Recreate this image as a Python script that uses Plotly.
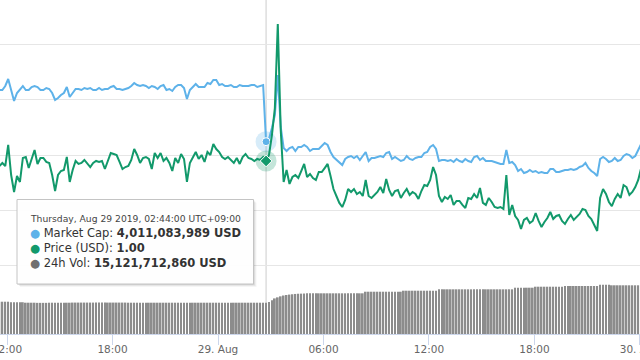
import pandas as pd
import plotly.graph_objects as go

# ---------------- data (10-minute samples, Aug 28 11:34 -> Aug 30 00:04, UTC+09:00) ----------------
start_time = "2019-08-28 11:34"
step = "10min"

price_usd = [
    0.99900, 0.99928, 0.99900, 1.00091, 0.99819, 0.99665, 0.99810, 0.99756, 0.99973, 0.99982,
    0.99882, 0.99955, 1.00045, 0.99919, 0.99973, 0.99973, 0.99937, 0.99928, 0.99819, 0.99674,
    0.99819, 0.99855, 0.99864, 0.99982, 0.99756, 0.99864, 0.99946, 0.99919, 0.99928, 0.99955,
    0.99919, 0.99891, 0.99928, 0.99946, 0.99937, 0.99946, 0.99873, 0.99946, 1.00018, 1.00009,
    1.00000, 0.99937, 0.99873, 0.99891, 0.99900, 0.99955, 1.00054, 1.00000, 0.99928, 0.99973,
    0.99982, 0.99964, 0.99873, 1.00018, 0.99973, 1.00018, 0.99946, 0.99973, 0.99928, 0.99855,
    0.99973, 0.99928, 1.00009, 0.99964, 0.99756, 0.99928, 0.99982, 1.00027, 0.99964, 1.00000,
    0.99937, 1.00027, 1.00000, 1.00100, 1.00054, 1.00027, 0.99982, 0.99964, 0.99982, 0.99955,
    0.99928, 0.99973, 0.99919, 0.99982, 1.00009, 0.99973, 0.99964, 0.99946, 0.99964, 0.99955,
    0.99982, 0.99946, 1.00000, 1.00181, 1.00425, 1.01186, 1.00226, 0.99756, 0.99864, 0.99738,
    0.99801, 0.99819, 0.99792, 0.99855, 0.99919, 0.99801, 0.99828, 0.99792, 0.99774, 0.99846,
    0.99846, 0.99882, 0.99919, 0.99810, 0.99692, 0.99629, 0.99566, 0.99529, 0.99593, 0.99692,
    0.99665, 0.99692, 0.99647, 0.99665, 0.99629, 0.99774, 0.99629, 0.99611, 0.99638, 0.99665,
    0.99710, 0.99656, 0.99783, 0.99683, 0.99629, 0.99674, 0.99683, 0.99611, 0.99656, 0.99692,
    0.99638, 0.99665, 0.99647, 0.99602, 0.99674, 0.99728, 0.99719, 0.99774, 0.99891, 0.99819,
    0.99629, 0.99575, 0.99620, 0.99602, 0.99638, 0.99548, 0.99584, 0.99584, 0.99548, 0.99520,
    0.99611, 0.99602, 0.99647, 0.99611, 0.99701, 0.99566, 0.99548, 0.99611, 0.99575, 0.99529,
    0.99520, 0.99529, 0.99511, 0.99819, 0.99457, 0.99548, 0.99448, 0.99412, 0.99330, 0.99412,
    0.99430, 0.99385, 0.99403, 0.99475, 0.99403, 0.99348, 0.99394, 0.99430, 0.99484, 0.99421,
    0.99448, 0.99457, 0.99403, 0.99376, 0.99421, 0.99457, 0.99412, 0.99439, 0.99466, 0.99511,
    0.99502, 0.99448, 0.99421, 0.99367, 0.99312, 0.99611, 0.99692, 0.99647, 0.99575, 0.99538,
    0.99602, 0.99647, 0.99611, 0.99728, 0.99710, 0.99638, 0.99665, 0.99710, 0.99774, 0.99882,
]

market_cap_musd = [
    4031.76, 4031.76, 4033.36, 4036.16, 4031.76, 4027.36, 4030.56, 4032.16, 4033.36, 4031.76,
    4031.76, 4032.96, 4033.36, 4032.96, 4031.76, 4031.76, 4032.56, 4032.16, 4030.56, 4027.76,
    4028.56, 4029.76, 4030.56, 4032.96, 4028.96, 4030.56, 4032.16, 4032.16, 4031.76, 4032.56,
    4032.16, 4032.56, 4031.76, 4031.76, 4032.56, 4031.76, 4032.16, 4032.16, 4032.96, 4033.36,
    4032.16, 4032.16, 4031.76, 4032.16, 4032.56, 4033.36, 4034.56, 4033.76, 4033.36, 4033.76,
    4033.36, 4032.56, 4033.36, 4032.96, 4032.16, 4033.36, 4033.76, 4031.76, 4032.16, 4031.36,
    4032.96, 4033.76, 4033.76, 4032.56, 4028.16, 4031.76, 4032.96, 4034.16, 4032.96, 4032.96,
    4032.96, 4034.56, 4034.16, 4035.76, 4035.76, 4033.76, 4034.16, 4033.36, 4033.36, 4033.76,
    4032.96, 4032.96, 4033.76, 4033.36, 4033.36, 4033.36, 4033.76, 4033.76, 4032.96, 4033.36,
    4033.76, 4011.08, 4012.16, 4016.56, 4021.76, 4037.76, 4016.96, 4008.56, 4007.36, 4008.56,
    4008.96, 4007.36, 4008.96, 4008.96, 4009.76, 4008.96, 4007.36, 4008.16, 4008.16, 4008.16,
    4009.36, 4010.56, 4009.76, 4006.96, 4004.96, 4003.76, 4002.96, 4001.76, 4004.16, 4004.96,
    4005.36, 4004.56, 4005.36, 4003.76, 4005.36, 4006.96, 4003.36, 4004.56, 4004.56, 4004.96,
    4005.36, 4004.96, 4006.56, 4006.96, 4004.16, 4004.96, 4004.16, 4003.36, 4003.76, 4005.36,
    4004.16, 4003.76, 4004.56, 4004.96, 4004.96, 4006.56, 4006.96, 4008.96, 4009.76, 4008.16,
    4003.36, 4003.76, 4003.76, 4003.36, 4003.76, 4002.96, 4004.16, 4003.36, 4002.96, 4004.16,
    4003.36, 4002.96, 4004.96, 4005.36, 4003.76, 4004.56, 4003.36, 4003.36, 4003.36, 4002.96,
    4002.56, 4002.16, 4002.16, 4007.76, 4002.56, 4002.96, 4001.76, 3999.36, 4000.16, 3998.56,
    3998.96, 3999.76, 3998.96, 3999.36, 3998.56, 3998.96, 3998.56, 3998.56, 4000.16, 4000.16,
    3998.96, 3998.96, 3999.36, 3999.76, 3999.76, 4000.16, 3999.76, 4000.16, 4000.96, 4001.36,
    4002.56, 4000.56, 3999.36, 3998.56, 3997.36, 4004.16, 4004.96, 4004.16, 4002.96, 4003.36,
    4004.56, 4003.36, 4003.76, 4005.36, 4006.16, 4005.76, 4004.56, 4005.36, 4007.76, 4010.16,
]

volume_24h_busd = [
    15.60, 15.60, 15.60, 15.60, 15.35, 15.35, 15.35, 15.35, 15.35, 15.12,
    15.12, 15.12, 15.12, 15.05, 15.05, 15.05, 15.05, 15.12, 15.12, 15.12,
    15.12, 15.12, 15.12, 15.12, 15.12, 15.18, 15.18, 15.18, 15.18, 15.18,
    15.18, 15.18, 15.18, 15.18, 15.18, 15.18, 15.18, 15.18, 15.18, 15.18,
    15.18, 15.18, 15.18, 15.18, 15.12, 15.12, 15.12, 15.12, 15.12, 15.12,
    15.12, 15.12, 15.12, 15.12, 15.12, 15.12, 15.12, 15.12, 15.12, 15.12,
    15.12, 15.12, 15.12, 15.12, 15.12, 15.12, 15.12, 15.12, 15.12, 15.12,
    15.12, 15.12, 15.12, 15.12, 15.12, 15.12, 15.12, 15.12, 15.12, 15.12,
    15.12, 15.12, 15.12, 15.12, 15.12, 15.12, 15.12, 15.12, 15.12, 15.12,
    15.12, 15.12, 15.45, 16.30, 17.20, 17.70, 18.20, 18.60, 18.85, 19.05,
    19.20, 19.35, 19.45, 19.50, 19.55, 19.66, 19.66, 19.66, 19.66, 19.66,
    19.66, 19.66, 19.66, 19.66, 19.66, 19.66, 19.66, 19.66, 19.66, 19.66,
    19.66, 19.66, 19.66, 19.66, 19.66, 20.43, 20.43, 20.43, 20.43, 20.43,
    20.43, 20.43, 20.43, 20.43, 20.43, 20.43, 20.43, 20.43, 20.92, 20.92,
    20.92, 20.92, 20.92, 20.92, 20.92, 20.92, 20.92, 20.92, 20.92, 20.92,
    21.59, 21.59, 21.59, 21.59, 21.59, 21.59, 21.59, 21.59, 21.59, 21.59,
    21.59, 21.59, 21.59, 21.59, 21.59, 21.59, 21.59, 21.59, 21.59, 21.59,
    21.59, 21.59, 21.59, 21.59, 21.59, 21.59, 22.37, 22.37, 22.37, 22.37,
    22.37, 22.37, 22.37, 22.85, 22.85, 22.85, 22.85, 22.85, 22.85, 22.85,
    22.85, 22.85, 22.85, 23.19, 23.19, 23.19, 23.19, 23.19, 23.19, 23.19,
    23.19, 23.19, 23.19, 23.19, 23.19, 23.82, 23.82, 23.82, 23.82, 23.53,
    23.53, 23.53, 23.53, 23.53, 23.53, 23.53, 23.53, 23.53, 23.53, 23.53,
]

tick_times = ["2019-08-28 12:00", "2019-08-28 18:00", "2019-08-29 00:00", "2019-08-29 06:00",
              "2019-08-29 12:00", "2019-08-29 18:00", "2019-08-30 00:00"]
tick_labels = ["12:00", "18:00", "29. Aug", "06:00", "12:00", "18:00", "30. Aug"]
x_range = ["2019-08-28 11:36:00", "2019-08-30 00:00:05"]

price_grid = [0.990, 0.995, 1.000, 1.005, 1.010]
price_range = [0.98380, 1.0140275]
mcap_range = [3934.16, 4067.76]
volume_range = [0, 161.36]

hover_time = "2019-08-29 02:44"
tooltip_header = "Thursday, Aug 29 2019, 02:44:00 UTC+09:00"
tooltip_rows = [("Market Cap: ", "4,011,083,989 USD"),
                ("Price (USD): ", "1.00"),
                ("24h Vol: ", "15,121,712,860 USD")]

# ---------------- styling ----------------
BLUE = "#5eb2e9"
GREEN = "#12996b"
BAR = "#8c8c8c"
FONT = "DejaVu Sans"
W, H = 640, 360
MB = 26
PLOT_H = H - MB

times = pd.date_range(start_time, periods=len(price_usd), freq=step)
hover_idx = list(times).index(pd.Timestamp(hover_time))

fig = go.Figure()
fig.add_trace(go.Bar(x=times, y=volume_24h_busd, marker=dict(color=BAR, line=dict(width=0)),
                     yaxis="y"))
fig.add_trace(go.Scatter(x=times, y=market_cap_musd, mode="lines", yaxis="y2",
                         line=dict(color=BLUE, width=2)))
fig.add_trace(go.Scatter(x=times, y=price_usd, mode="lines", yaxis="y3",
                         line=dict(color=GREEN, width=2)))
# hover halos + markers
ht = [times[hover_idx]]
fig.add_trace(go.Scatter(x=ht, y=[market_cap_musd[hover_idx]], yaxis="y2", mode="markers",
                         marker=dict(size=21, color=BLUE, opacity=0.25, line=dict(width=0))))
fig.add_trace(go.Scatter(x=ht, y=[price_usd[hover_idx]], yaxis="y3", mode="markers",
                         marker=dict(size=21, color=GREEN, opacity=0.25, line=dict(width=0))))
fig.add_trace(go.Scatter(x=ht, y=[market_cap_musd[hover_idx]], yaxis="y2", mode="markers",
                         marker=dict(size=8, color=BLUE, line=dict(width=1, color="white"))))
fig.add_trace(go.Scatter(x=ht, y=[price_usd[hover_idx]], yaxis="y3", mode="markers",
                         marker=dict(size=9, symbol="diamond", color=GREEN,
                                     line=dict(width=1, color="white"))))


def px(xp):
    return xp / W


def py(yp):
    return (PLOT_H - yp) / PLOT_H


tip_l, tip_r, tip_t, tip_b = 17, 253.5, 199.5, 284
shapes = [
    dict(type="line", xref="x", yref="paper", x0=times[hover_idx], x1=times[hover_idx],
         y0=0, y1=1, line=dict(color="#cccccc", width=1), layer="below"),
]
for off, alpha in [(3, 0.04), (2, 0.06), (1, 0.08)]:
    shapes.append(dict(type="rect", xref="paper", yref="paper",
                       x0=px(tip_l + off), x1=px(tip_r + off), y0=py(tip_b + off), y1=py(tip_t + off),
                       fillcolor=f"rgba(0,0,0,{alpha})", line=dict(width=0)))
shapes.append(dict(type="rect", xref="paper", yref="paper",
                   x0=px(tip_l), x1=px(tip_r), y0=py(tip_b), y1=py(tip_t),
                   fillcolor="rgba(255,255,255,0.97)", line=dict(color="#c4c4c4", width=1)))

annotations = [dict(xref="paper", yref="paper", x=px(27.5), y=py(218.3), xanchor="left",
                    yanchor="middle", showarrow=False, text=tooltip_header,
                    font=dict(family=FONT, size=9.2, color="#444444"))]
dot_colors = [BLUE, GREEN, "#707070"]
row_y = [232.7, 248.3, 263.3]
for (lab, val), c, yy in zip(tooltip_rows, dot_colors, row_y):
    annotations.append(dict(
        xref="paper", yref="paper", x=px(27.5), y=py(yy), xanchor="left", yanchor="middle",
        showarrow=False,
        text=f"<span style='color:{c}'>●</span> {lab}<b>{val}</b>",
        font=dict(family=FONT, size=11.5, color="#333333")))

fig.update_layout(
    width=W, height=H,
    margin=dict(l=0, r=0, t=0, b=MB),
    paper_bgcolor="white", plot_bgcolor="white",
    showlegend=False, hovermode=False, bargap=0.4,
    xaxis=dict(type="date", range=x_range, tickvals=tick_times, ticktext=tick_labels,
               showgrid=False, zeroline=False, showline=True, linecolor="#ccd6eb", linewidth=1,
               ticks="outside", ticklen=10, tickcolor="#ccd6eb", tickwidth=1,
               tickfont=dict(family=FONT, size=10.5, color="#666666"),
               ticklabelstandoff=-5,
               ticklabeloverflow="allow", automargin=False),
    yaxis=dict(range=volume_range, showgrid=False, zeroline=False, showticklabels=False,
               automargin=False),
    yaxis2=dict(range=mcap_range, overlaying="y", showgrid=False, zeroline=False,
                showticklabels=False),
    yaxis3=dict(range=price_range, overlaying="y", tickvals=price_grid, showgrid=True,
                gridcolor="#e6e6e6", gridwidth=1, zeroline=False, showticklabels=False),
    shapes=shapes,
    annotations=annotations,
)

fig.write_html("out.html", config={"displayModeBar": False},
               post_script="document.body.style.margin='0';document.body.style.overflow='hidden';")
